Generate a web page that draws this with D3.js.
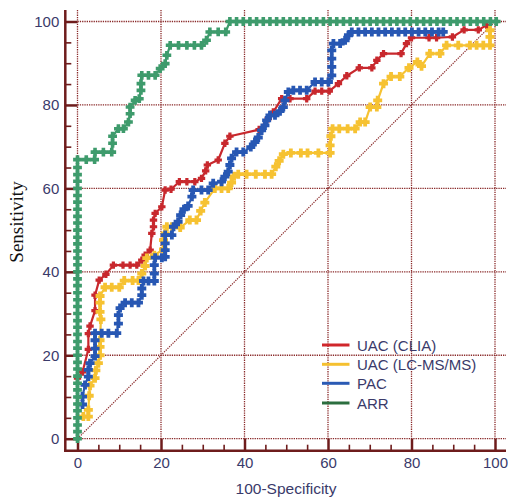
<!DOCTYPE html>
<html><head><meta charset="utf-8">
<script src="https://cdn.jsdelivr.net/npm/d3@7"></script>
<style>body{margin:0;background:#fff}svg{display:block}</style>
</head><body>
<svg id="c" width="508" height="499"></svg>
<script>
// ----- data -----
const seriesNames = ["UAC (CLIA)", "UAC (LC-MS/MS)", "PAC", "ARR"];
const majorTicks = [0, 20, 40, 60, 80, 100];
const minorTicks = [5, 10, 15, 25, 30, 35, 45, 50, 55, 65, 70, 75, 85, 90, 95];

const uacClia = [[0,14.5],[1.2,16.0],[2.6,21.4],[2.6,25.2],[3.0,27.0],[4.2,30.7],[4.2,34.4],[5.2,38.0],[6.8,39.4],[8.6,41.6],[10.9,41.6],[12.6,41.6],[14.2,41.6],[15.4,42.8],[16.2,44.0],[17.4,45.2],[17.8,49.2],[18.2,50.8],[18.2,52.4],[18.6,54.0],[20.2,55.6],[21.0,59.6],[22.4,59.8],[24.4,61.6],[26.2,61.6],[28.1,61.6],[29.7,62.4],[30.7,64.2],[31.1,65.6],[33.7,66.8],[35.3,70.8],[36.5,72.5],[43.5,74.1],[45.7,76.7],[46.9,78.3],[48.9,81.5],[50.9,81.5],[54.9,81.5],[56.9,83.3],[58.5,83.3],[60.3,83.3],[62.5,85.1],[64.5,87.0],[67.5,88.9],[70.5,88.9],[71.7,90.7],[73.3,92.3],[77.5,92.3],[78.8,94.7],[80.0,96.1],[84.2,96.1],[86.0,96.1],[89.8,96.3],[92.6,98.0],[96.0,98.0],[98.0,99.1]];

const uacLcms = [[1.4,5.3],[2.6,5.3],[2.6,6.9],[2.8,10.3],[3.0,12.7],[4.2,14.5],[4.4,16.4],[5.0,18.1],[5.4,20.0],[5.4,22.0],[5.4,23.6],[5.6,28.6],[5.4,30.4],[5.4,32.6],[5.4,34.2],[6.6,36.3],[8.2,36.3],[10.0,36.3],[11.2,37.9],[13.2,37.9],[14.6,37.9],[15.4,39.6],[16.2,41.4],[16.6,43.3],[18.4,44.0],[20.6,45.4],[20.6,47.6],[21.0,49.2],[21.4,50.8],[22.6,50.8],[24.6,50.6],[26.9,52.4],[28.5,52.4],[29.5,54.6],[30.5,56.6],[32.9,60.0],[34.5,60.0],[36.1,60.0],[36.9,61.4],[37.5,62.9],[38.5,63.4],[40.5,63.4],[42.7,63.4],[44.9,63.4],[46.5,63.4],[47.5,65.2],[48.3,66.6],[49.3,68.2],[51.1,68.5],[53.5,68.5],[55.1,68.5],[57.7,68.5],[60.5,68.5],[60.5,70.3],[60.7,72.5],[61.1,74.3],[62.7,74.3],[64.7,74.3],[66.5,74.3],[67.7,75.9],[68.9,75.9],[70.1,79.5],[71.7,79.5],[71.9,81.1],[73.3,85.1],[75.1,86.8],[77.2,86.8],[79.4,88.9],[81.4,90.3],[82.4,89.3],[84.4,92.3],[86.8,92.3],[88.4,94.3],[91.2,94.3],[94.0,94.3],[95.6,94.3],[97.2,94.3],[98.8,94.3],[98.8,96.3],[98.8,97.9]];

const pac = [[1.2,8.2],[1.2,10.1],[1.8,12.9],[2.6,14.9],[2.6,16.5],[3.0,18.1],[4.2,19.8],[4.2,21.6],[4.2,23.6],[4.2,25.3],[5.8,25.3],[7.4,25.3],[9.4,25.3],[9.8,27.6],[9.8,29.6],[10.2,31.3],[11.4,32.6],[13.0,32.6],[14.6,32.6],[15.4,34.4],[15.4,36.0],[15.8,37.8],[17.0,37.8],[18.4,37.8],[18.4,39.6],[18.4,41.6],[18.6,43.4],[20.2,43.4],[21.0,43.6],[21.0,45.2],[21.0,46.8],[21.0,48.8],[22.6,48.8],[23.0,50.8],[24.1,52.0],[24.7,53.6],[25.5,55.0],[26.5,55.8],[27.4,58.0],[27.7,59.6],[29.7,59.6],[31.3,59.6],[32.5,61.2],[34.5,61.6],[35.3,62.8],[36.1,64.0],[36.5,65.6],[36.9,67.2],[38.1,68.7],[39.7,68.7],[41.5,69.9],[42.5,71.1],[43.3,72.2],[44.1,73.9],[44.9,75.1],[45.3,76.3],[46.1,77.5],[47.3,77.5],[48.5,78.5],[49.3,79.5],[49.7,81.1],[50.5,83.1],[51.7,83.5],[53.3,83.5],[54.9,83.5],[56.9,85.5],[58.5,85.5],[60.1,85.5],[60.9,87.1],[60.9,89.1],[60.9,91.1],[60.9,93.1],[61.3,94.7],[62.9,94.7],[64.1,95.5],[64.9,96.7],[65.7,97.5],[67.3,97.5],[68.9,97.5],[70.5,97.5],[72.1,97.5],[73.7,97.5],[75.3,97.5],[76.9,97.5],[78.5,97.5],[80.1,97.5],[81.7,97.5],[83.3,97.5],[84.9,97.5],[86.5,97.5],[87.6,97.5]];

const arr = [[0,0],[0,1.7],[0,3.3],[0,5.0],[0,6.7],[0,8.3],[0,10.0],[0,11.7],[0,13.3],[0,15.0],[0,16.7],[0,18.3],[0,20.0],[0,21.7],[0,23.3],[0,25.0],[0,26.7],[0,28.3],[0,30.0],[0,31.7],[0,33.3],[0,35.0],[0,36.7],[0,38.3],[0,40.0],[0,41.7],[0,43.3],[0,45.0],[0,46.7],[0,48.3],[0,50.0],[0,51.7],[0,53.3],[0,55.0],[0,56.7],[0,58.3],[0,60.0],[0,61.7],[0,63.3],[0,65.0],[0,66.9],[2.1,66.9],[4.1,66.9],[4.2,68.7],[6.2,68.7],[8.2,68.7],[8.4,70.8],[8.4,72.5],[9.8,74.3],[11.0,74.3],[12.2,75.9],[12.6,77.9],[12.6,79.5],[13.8,81.1],[14.8,81.5],[15.2,83.5],[15.2,85.1],[15.4,87.1],[17.0,87.1],[18.6,87.1],[19.8,88.7],[21.0,89.9],[21.4,91.9],[22.2,94.3],[24.2,94.3],[26.2,94.3],[28.0,94.3],[29.7,94.3],[30.9,95.5],[31.7,97.5],[33.7,97.5],[35.5,97.5],[36.5,100],[38.1,100],[39.7,100],[41.3,100],[42.9,100],[44.5,100],[46.1,100],[47.7,100],[49.3,100],[50.9,100],[52.5,100],[54.1,100],[55.7,100],[57.3,100],[58.9,100],[60.5,100],[62.1,100],[63.7,100],[65.3,100],[66.9,100],[68.5,100],[70.1,100],[71.7,100],[73.3,100],[74.9,100],[76.5,100],[78.1,100],[79.7,100],[81.3,100],[82.9,100],[84.5,100],[86.1,100],[87.7,100],[89.3,100],[90.9,100],[92.5,100],[94.1,100],[95.7,100],[97.3,100],[98.9,100],[100.3,100]];

const seriesData = [uacClia, uacLcms, pac, arr];
const lineColors = ["#c8282d", "#f6c232", "#2757b3", "#3e9b6c"];
const legendColors = ["#d0262b", "#f5c030", "#2a5ab4", "#2b6e3f"];

// ----- drawing -----
const svg = d3.select("#c");
const x = d3.scaleLinear().domain([0, 100]).range([77.5, 495]);
const y = d3.scaleLinear().domain([0, 100]).range([438.7, 21.5]);
const axisCol = "#6e1c1c", gridCol = "#8a2a2a", textCol = "#3a3a6a";
const axX = 65.3, axY = 450.7;

// grid
const g = svg.append("g");
majorTicks.forEach(v => {
  g.append("line").attr("x1", x(v)).attr("x2", x(v)).attr("y1", 10).attr("y2", y(0))
    .attr("stroke", gridCol).attr("stroke-width", 1.3).attr("stroke-dasharray", "1.3,1");
  g.append("line").attr("x1", x(0)).attr("x2", 506).attr("y1", y(v)).attr("y2", y(v))
    .attr("stroke", gridCol).attr("stroke-width", 1.3).attr("stroke-dasharray", "1.3,1");
});
g.append("line").attr("x1", x(0)).attr("y1", y(0)).attr("x2", x(100)).attr("y2", y(100))
  .attr("stroke", gridCol).attr("stroke-width", 1.2).attr("stroke-dasharray", "1.3,1.1");

// axes ticks
function styleTicks(sel, w) {
  sel.select(".domain").remove();
  sel.selectAll("line").attr("stroke", axisCol).attr("stroke-width", w);
}
svg.append("g").attr("transform", `translate(${axX},0)`)
  .call(d3.axisRight(y).tickValues(majorTicks).tickSize(12).tickFormat(""))
  .call(s => styleTicks(s, 2.5));
svg.append("g").attr("transform", `translate(${axX},0)`)
  .call(d3.axisRight(y).tickValues(minorTicks).tickSize(6).tickFormat(""))
  .call(s => styleTicks(s, 1.6));
svg.append("g").attr("transform", `translate(0,${axY})`)
  .call(d3.axisTop(x).tickValues(majorTicks).tickSize(12).tickFormat(""))
  .call(s => styleTicks(s, 2.5));
svg.append("g").attr("transform", `translate(0,${axY})`)
  .call(d3.axisTop(x).tickValues(minorTicks).tickSize(6).tickFormat(""))
  .call(s => styleTicks(s, 1.6));
// labels
const yl = svg.append("g").attr("transform", `translate(${axX},0)`)
  .call(d3.axisLeft(y).tickValues(majorTicks).tickSize(0).tickPadding(6));
yl.select(".domain").remove();
yl.selectAll("text").attr("fill", textCol).style("font", "15px 'Liberation Sans', Arial, sans-serif");
const xl = svg.append("g").attr("transform", `translate(0,${axY})`)
  .call(d3.axisBottom(x).tickValues(majorTicks).tickSize(0).tickPadding(7));
xl.select(".domain").remove();
xl.selectAll("text").attr("fill", textCol).style("font", "15px 'Liberation Sans', Arial, sans-serif");
// axis lines
svg.append("line").attr("x1", axX).attr("x2", axX).attr("y1", 10).attr("y2", axY + 1.2)
  .attr("stroke", axisCol).attr("stroke-width", 2.5);
svg.append("line").attr("x1", axX - 1.2).attr("x2", 506).attr("y1", axY).attr("y2", axY)
  .attr("stroke", axisCol).attr("stroke-width", 2.5);

svg.append("text").attr("x", 286).attr("y", 494).attr("text-anchor", "middle")
  .attr("fill", textCol).style("font", "15.5px 'Liberation Sans', Arial, sans-serif")
  .text("100-Specificity");
svg.append("text").attr("transform", "translate(23,222) rotate(-90)").attr("text-anchor", "middle")
  .attr("fill", "#111").style("font", "19px 'Liberation Serif', 'Times New Roman', serif")
  .text("Sensitivity");

// markers
function markerPath(a, b, d) {
  return `M${-b},${-a}L${b},${-a}L${b},${-b}L${a},${-b}L${a},${b}L${b},${b}L${b},${a}L${-b},${a}L${-b},${b}L${-a},${b}L${-a},${-b}L${-b},${-b}Z` +
    `M0,${-d}L${d},0L0,${d}L${-d},0Z`;
}
const markerSizes = [[3.7, 1.6, 3.5], [4.5, 1.9, 4.1], [4.5, 1.9, 4.1], [4.4, 1.8, 4.0]];
const line = d3.line().x(d => x(d[0])).y(d => y(d[1]));
seriesData.forEach((data, i) => {
  const sg = svg.append("g");
  sg.append("path").datum(data).attr("d", line).attr("fill", "none")
    .attr("stroke", lineColors[i]).attr("stroke-width", 2.2).attr("stroke-linejoin", "round");
  const ms = markerSizes[i];
  sg.selectAll("path.m").data(data).join("path").attr("class", "m")
    .attr("transform", d => `translate(${x(d[0])},${y(d[1])})`)
    .attr("d", markerPath(ms[0], ms[1], ms[2]))
    .attr("fill", lineColors[i]);
});

// legend
const leg = svg.append("g");
seriesNames.forEach((name, i) => {
  const ly = [345, 364.3, 383.3, 403][i];
  leg.append("line").attr("x1", 322).attr("x2", 349.5).attr("y1", ly).attr("y2", ly)
    .attr("stroke", legendColors[i]).attr("stroke-width", 3);
  leg.append("text").attr("x", 357).attr("y", ly + 5.5).attr("fill", textCol)
    .style("font", "15px 'Liberation Sans', Arial, sans-serif").text(name);
});
</script>
</body></html>
